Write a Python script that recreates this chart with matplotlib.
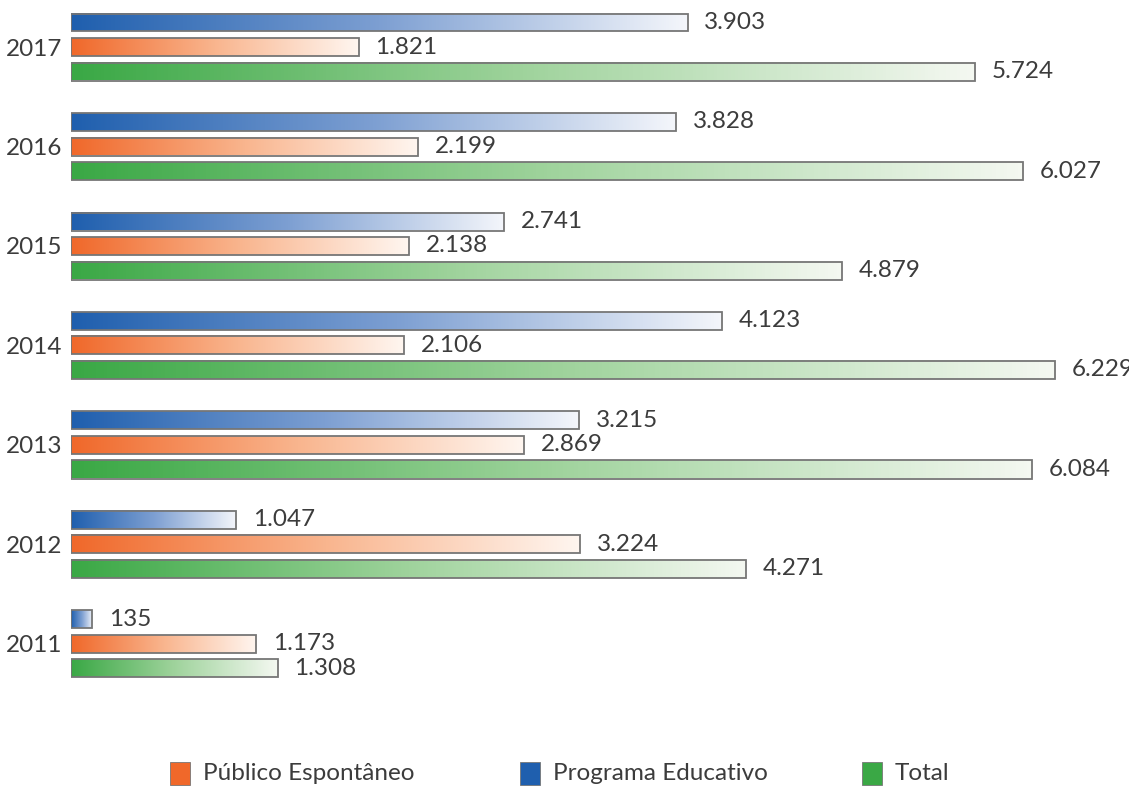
import matplotlib
matplotlib.use("Agg")
import matplotlib.pyplot as plt
import numpy as np
from matplotlib.colors import LinearSegmentedColormap
from matplotlib.patches import Rectangle

plt.rcParams["font.family"] = ["Lato", "DejaVu Sans"]

years = ["2017", "2016", "2015", "2014", "2013", "2012", "2011"]
educativo = [3903, 3828, 2741, 4123, 3215, 1047, 135]
espontaneo = [1821, 2199, 2138, 2106, 2869, 3224, 1173]
total = [5724, 6027, 4879, 6229, 6084, 4271, 1308]

series_names = ["Público Espontâneo", "Programa Educativo", "Total"]

BLUE = "#1f5fae"
ORANGE = "#f0682a"
GREEN = "#3aa845"
EDGE = "#767676"
TEXT = "#3c3c3c"

gradients = {
    "blue": LinearSegmentedColormap.from_list("b", [BLUE, "#7d9fd2", "#f4f6fb"]),
    "orange": LinearSegmentedColormap.from_list("o", [ORANGE, "#f9b58e", "#fff6f0"]),
    "green": LinearSegmentedColormap.from_list("g", [GREEN, "#9fd39c", "#f4f8f1"]),
}

W, H = 1129, 791
fig = plt.figure(figsize=(W / 100, H / 100), dpi=100)
fig.patch.set_facecolor("white")

left_px = 71
px_per_unit = 0.158
group_px = 99.5
ax = fig.add_axes([left_px / W, 0, 1 - left_px / W, 1])
ax.set_facecolor("none")

xmax = (W - left_px) / px_per_unit
y_top = -47 / group_px
y_bot = (H - 47) / group_px

offset = 24.5 / group_px
bar_h = 18 / group_px
ramp = np.linspace(0, 1, 256).reshape(1, -1)


def gradient_bar(y, v, cmap):
    ax.imshow(ramp, cmap=cmap, aspect="auto", interpolation="bilinear",
              extent=[0, v, y + bar_h / 2, y - bar_h / 2], zorder=2)
    ax.add_patch(Rectangle((0, y - bar_h / 2), v, bar_h, facecolor="none",
                           edgecolor=EDGE, linewidth=1.3, zorder=3))
    label = f"{v:,}".replace(",", ".")
    ax.annotate(label, (v, y), xytext=(12, 0), textcoords="offset points",
                ha="left", va="center", fontsize=17.5, color=TEXT,
                annotation_clip=False)


for i, year in enumerate(years):
    gradient_bar(i - offset, educativo[i], gradients["blue"])
    gradient_bar(i, espontaneo[i], gradients["orange"])
    gradient_bar(i + offset, total[i], gradients["green"])

ax.set_xlim(0, xmax)
ax.set_ylim(y_bot, y_top)
ax.set_yticks(range(len(years)))
ax.set_yticklabels(years, fontsize=17.5, color=TEXT)
ax.tick_params(axis="y", length=0, pad=6)
ax.set_xticks([])
for spine in ax.spines.values():
    spine.set_visible(False)

# legend along the bottom
legend_colors = [ORANGE, BLUE, GREEN]
legend_x = [170, 520, 862]
for name, color, x in zip(series_names, legend_colors, legend_x):
    fig.patches.append(Rectangle((x / W, 1 - 785 / H), 20 / W, 23 / H,
                                 facecolor=color, edgecolor=EDGE, linewidth=0.6,
                                 transform=fig.transFigure, figure=fig))
    fig.text((x + 33) / W, 1 - 774 / H, name, fontsize=17.5, color=TEXT,
             ha="left", va="center")

fig.savefig("out.png", dpi=100)
